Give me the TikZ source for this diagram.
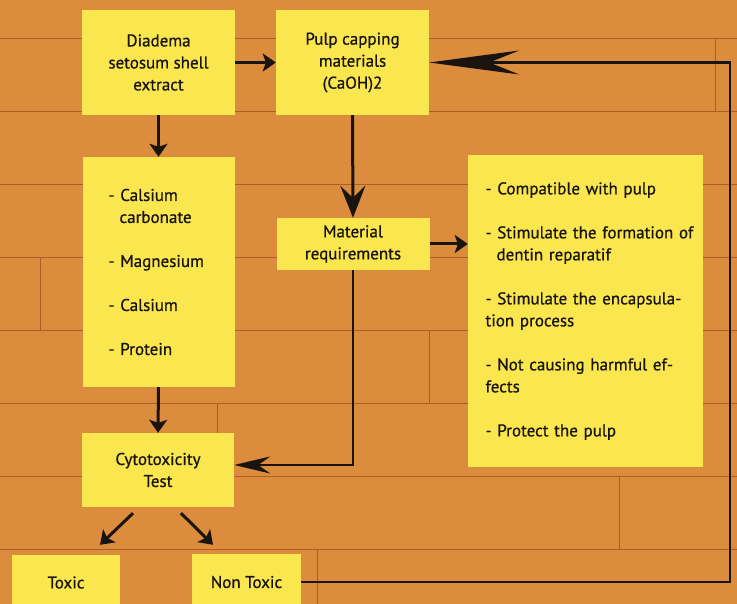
\documentclass[tikz,border=0pt]{standalone}
\usepackage{fontspec}
\setmainfont{PT Sans}
\newfontfamily\notefont[FakeBold=0.7]{PT Sans}
\usepackage{xcolor}
\usepackage{tikz}
\usetikzlibrary{positioning, arrows.meta, calc}

\definecolor{woodbase}{RGB}{219,140,60}
\definecolor{woodline}{RGB}{170,95,40}
\definecolor{noteyellow}{RGB}{250,230,78}
\definecolor{inkblack}{RGB}{25,20,15}

\begin{document}
\begin{tikzpicture}[x=1pt, y=-1pt,
    box/.style={fill=noteyellow, inner sep=0pt, align=center, text=inkblack, font=\notefont\fontsize{17}{22}\selectfont},
    flow/.style={draw=inkblack, line width=3pt, -{Stealth[length=13pt, width=18pt, inset=3pt]}},
    bigflow/.style={draw=inkblack, line width=3pt, -{Stealth[length=32pt, width=25pt, inset=12pt]}},
    backflow/.style={draw=inkblack, line width=2.5pt, -{Stealth[length=36pt, width=17pt, inset=12pt]}},
    loopflow/.style={draw=inkblack, line width=2.5pt, -{Stealth[length=90pt, width=24pt, inset=30pt]}}
]
        \useasboundingbox (0,0) rectangle (737,604);
        \clip (0,0) rectangle (737,604);

        % Wood floor
        \fill[woodbase] (0,0) rectangle (737,604);
        \foreach \y in {38,111,...,549}
            \draw[woodline, line width=0.9pt] (0,\y) -- (737,\y);
        \foreach \x/\y in {217/403, 429/330, 619/476, 715/38, 317/549, 655/184, 40/257}
            \draw[woodline, line width=0.8pt] (\x,\y) -- (\x,{\y+73});

        % Boxes
        \node[box, minimum width=153pt, minimum height=105pt] (shell) at (158.5,62.5) {Diadema\\setosum shell\\extract};
        \node[box, minimum width=153pt, minimum height=105pt] (pulp) at (352.5,62.5) {Pulp capping\\materials\\(CaOH)2};
        \node[box, minimum width=152pt, minimum height=230pt, align=left, text width=100pt] (content) at (158.5,272)
            {- Calsium\\\hspace*{11pt}carbonate\\[22pt]- Magnesium\\[22pt]- Calsium\\[22pt]- Protein};
        \node[box, minimum width=153pt, minimum height=52pt] (matreq) at (353,244) {Material\\requirements};
        \node[box, minimum width=235pt, minimum height=312pt, align=left, text width=200pt] (criteria) at (585.5,311)
            {- Compatible with pulp\\[22pt]\mbox{- Stimulate the formation of}\\\hspace*{11pt}dentin reparatif\\[22pt]- Stimulate the encapsula-\\tion process\\[22pt]- Not causing harmful ef-\\fects\\[22pt]- Protect the pulp};
        \node[box, minimum width=152pt, minimum height=74pt] (cytotest) at (158,470) {Cytotoxicity\\Test};
        \node[box, minimum width=108pt, minimum height=55pt] (toxic) at (66,582.5) {Toxic};
        \node[box, minimum width=109pt, minimum height=56pt] (nontoxic) at (246.5,582) {Non Toxic};
        \coordinate (loopcorner) at (730,582);

        % Arrows
        \draw[flow] (shell.east) -- (pulp.west);
        \draw[flow] (shell.south) -- (content.north);
        \draw[bigflow] (pulp.south) -- (matreq.north);
        \draw[flow] (matreq.east) -- (matreq.east -| criteria.west);
        \draw[flow] (content.south) -- (cytotest.north);
        \draw[backflow] (matreq.south) |- ([yshift=5pt]cytotest.east);
        \draw[flow] ([xshift=-25pt,yshift=-6pt]cytotest.south) -- ([xshift=34pt,yshift=10pt]toxic.north);
        \draw[flow] ([xshift=23pt,yshift=-6pt]cytotest.south) -- ([xshift=-33.5pt,yshift=9pt]nontoxic.north);
        \draw[loopflow] (nontoxic.east) -- (loopcorner) |- (pulp.east);
\end{tikzpicture}
\end{document}
